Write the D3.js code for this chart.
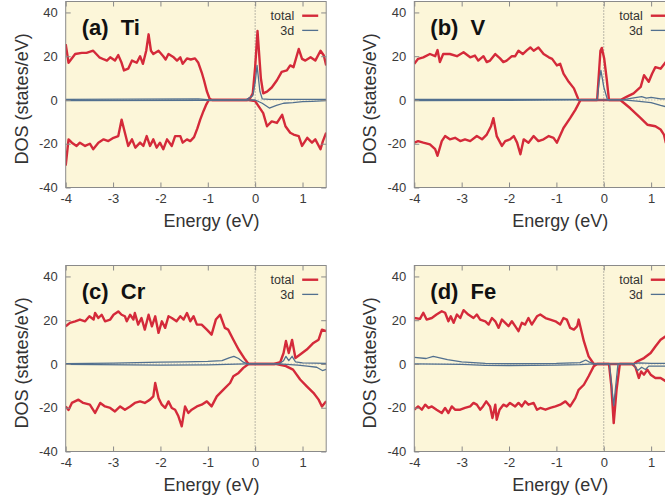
<!DOCTYPE html>
<html>
<head>
<meta charset="utf-8">
<script src="https://cdn.jsdelivr.net/npm/d3@7"></script>
<style>
body { margin: 0; background: #fff; }
svg { display: block; font-family: "Liberation Sans", Arial, sans-serif; }
</style>
</head>
<body>
<svg width="665" height="500"></svg>
<script>
var xTicks = [-4, -3, -2, -1, 0, 1];
var yTicks = [-40, -20, 0, 20, 40];
var panelLabels = ["(a)  Ti", "(b)  V", "(c)  Cr", "(d)  Fe"];
var legendNames = ["total", "3d"];

// Ti
var tiTotalUp = [[-4.00,25.5],[-3.94,17],[-3.80,21],[-3.66,21.5],[-3.56,21.5],[-3.42,22.5],[-3.29,19.5],[-3.19,18.5],[-3.13,18],
  [-3.06,19.5],[-2.96,18],[-2.89,20.5],[-2.82,17],[-2.77,13.5],[-2.68,14.3],[-2.60,18],[-2.50,17],[-2.43,20],[-2.37,16.5],
  [-2.30,22.5],[-2.25,30],[-2.20,22.5],[-2.15,21],[-2.04,22.5],[-1.94,20],[-1.89,18.5],[-1.83,21],[-1.72,19.5],[-1.65,18],
  [-1.58,19.5],[-1.53,16.5],[-1.44,19],[-1.36,18.5],[-1.27,19],[-1.20,17],[-1.12,12],[-1.08,9],[-1.02,4],[-0.96,0.5],[-0.91,0],
  [-0.17,0],[-0.10,1],[-0.05,3],[0.00,15],[0.05,31.5],[0.12,10],[0.17,3],[0.25,3.8],[0.35,5.7],[0.46,9],[0.56,12.8],[0.67,13.5],
  [0.74,15.8],[0.81,15],[0.92,23.3],[0.99,18.8],[1.06,18],[1.17,19.5],[1.27,18],[1.38,22.5],[1.45,20.3],[1.50,15.8]];
var tiTotalDown = [[-4.00,-30],[-3.94,-18],[-3.87,-19.5],[-3.77,-21],[-3.70,-19.5],[-3.59,-21],[-3.49,-20],[-3.42,-22.5],[-3.31,-19.5],
  [-3.20,-18],[-3.10,-18.8],[-2.99,-17.3],[-2.89,-16.5],[-2.82,-9],[-2.75,-15],[-2.68,-21],[-2.60,-18],[-2.53,-21.8],[-2.43,-19.5],
  [-2.36,-21],[-2.29,-16.5],[-2.22,-21],[-2.15,-18],[-2.08,-21.8],[-2.01,-19.5],[-1.94,-22.5],[-1.86,-18],[-1.76,-21],[-1.69,-16.5],
  [-1.58,-16.5],[-1.53,-19.5],[-1.44,-18],[-1.37,-18.8],[-1.29,-17],[-1.22,-13],[-1.16,-9],[-1.09,-5],[-1.03,-2],[-0.98,0],
  [-0.14,0],[0.00,-0.5],[0.17,-6],[0.25,-12],[0.35,-9.8],[0.46,-10.5],[0.57,-6.8],[0.64,-12],[0.74,-15],[0.81,-15.8],[0.92,-16.5],
  [0.99,-21],[1.10,-17.3],[1.20,-19.5],[1.27,-18],[1.38,-22.5],[1.43,-18.8],[1.50,-15]];
var ti3dUp = [[-4,0.3],[-1.2,0.5],[-1.0,0.1],[-0.9,0],[-0.2,0],[-0.05,2],[0.0,8],[0.04,15.8],[0.1,4],[0.15,0.5],[0.3,0.3],[1.5,0.3]];
var ti3dDown = [[-4,-0.3],[-1.0,-0.2],[0.0,0],[0.15,-1.5],[0.3,-3.7],[0.45,-2.5],[0.6,-1.5],[0.8,-1.2],[1.0,-0.8],[1.2,-0.6],[1.5,-0.3]];

// V
var vTotalUp = [[-4.00,16.5],[-3.92,18.8],[-3.81,19.5],[-3.67,21],[-3.56,20],[-3.51,22.8],[-3.46,17.3],[-3.39,21],[-3.25,21],
  [-3.10,20],[-2.96,21.8],[-2.82,19.5],[-2.72,20.3],[-2.65,18],[-2.54,20],[-2.47,17.3],[-2.40,18],[-2.29,21],[-2.19,19],
  [-2.12,17.3],[-2.05,18],[-1.94,20],[-1.87,20],[-1.80,22.5],[-1.71,21],[-1.62,22.8],[-1.55,24],[-1.48,22.5],[-1.38,24],
  [-1.27,21],[-1.16,19.5],[-1.09,18.8],[-0.99,15.8],[-0.92,16.5],[-0.85,12],[-0.74,8.3],[-0.63,5.3],[-0.53,0],[-0.14,0],
  [-0.07,22.5],[-0.04,23.8],[0.01,18.8],[0.06,10],[0.11,0],[0.35,0],[0.49,1.5],[0.63,3],[0.78,6],[0.85,11.3],[0.95,8.3],
  [1.02,12],[1.09,15],[1.20,14.3],[1.31,17.3],[1.40,18.5],[1.50,19]];
var vTotalDown = [[-4.00,-19.5],[-3.92,-18.8],[-3.81,-19.5],[-3.67,-20.3],[-3.56,-22.5],[-3.51,-25.5],[-3.42,-18.8],[-3.35,-16.5],
  [-3.25,-18],[-3.14,-17.3],[-3.03,-18.8],[-2.93,-18],[-2.82,-18.8],[-2.68,-16.5],[-2.57,-18],[-2.47,-15.8],[-2.38,-12],[-2.33,-8.3],
  [-2.26,-16.5],[-2.15,-21],[-2.08,-18.8],[-1.98,-18],[-1.90,-16.5],[-1.83,-19.5],[-1.76,-24.8],[-1.69,-18],[-1.59,-19.5],
  [-1.48,-16.5],[-1.38,-18.8],[-1.27,-18],[-1.16,-16.5],[-1.06,-17.3],[-0.99,-19.5],[-0.85,-12.8],[-0.71,-8.3],[-0.60,-4.5],
  [-0.49,0],[0.35,0],[0.56,-3.8],[0.78,-8.3],[0.92,-11.3],[1.09,-12],[1.20,-13.5],[1.27,-15.8],[1.31,-19.5],[1.40,-20],[1.50,-21]];
var v3dUp = [[-4,0.3],[-0.6,0.3],[-0.5,0],[-0.14,0],[-0.1,8],[-0.06,13.5],[0.0,6],[0.08,0],[0.4,0],[0.6,0.8],[0.8,1.5],[0.9,0.8],
  [1.0,1.2],[1.2,0.5],[1.5,0.5]];
var v3dDown = [[-4,-0.3],[-0.5,0],[0.4,0],[0.7,-0.5],[1.0,-1.2],[1.2,-2.5],[1.3,-3],[1.5,-3]];

// Cr
var crTotalUp = [[-4.00,17.2],[-3.91,18.8],[-3.80,19.5],[-3.70,20.3],[-3.59,19.5],[-3.50,21.8],[-3.41,20.3],[-3.38,23.3],[-3.31,21],
  [-3.24,22.5],[-3.17,19.5],[-3.06,20.3],[-2.99,22.5],[-2.89,24],[-2.82,22.5],[-2.75,21.8],[-2.71,19.5],[-2.64,22.5],[-2.57,20.3],
  [-2.54,23.3],[-2.47,18],[-2.40,21],[-2.33,15.7],[-2.25,22.5],[-2.18,17.2],[-2.11,21.8],[-2.04,14.2],[-1.97,19.5],[-1.90,16.5],
  [-1.83,21.8],[-1.76,21],[-1.66,19.5],[-1.58,21.8],[-1.51,20.3],[-1.44,23.3],[-1.37,19.5],[-1.30,21.8],[-1.23,18],[-1.13,18],
  [-1.02,15.7],[-0.92,13.4],[-0.83,20.3],[-0.74,22.5],[-0.64,16.5],[-0.57,15.7],[-0.46,11.1],[-0.35,6.6],[-0.21,2],[-0.14,0],
  [0.40,0],[0.53,0.8],[0.60,5],[0.65,10.5],[0.71,5],[0.78,11],[0.85,2.7],[0.95,4.3],[1.09,6.6],[1.23,9.6],[1.34,11.1],
  [1.41,15.7],[1.50,15]];
var crTotalDown = [[-4.00,-19.4],[-3.94,-21],[-3.87,-17.8],[-3.73,-16.3],[-3.63,-17.8],[-3.49,-18.6],[-3.38,-22.4],[-3.27,-17.8],
  [-3.17,-19.4],[-3.06,-20.1],[-2.96,-21.7],[-2.85,-19.4],[-2.75,-20.9],[-2.64,-19.4],[-2.54,-17.8],[-2.43,-17.1],[-2.33,-17.8],
  [-2.22,-16.3],[-2.15,-14.8],[-2.11,-8.7],[-2.04,-15.6],[-1.97,-18.6],[-1.90,-20.1],[-1.83,-17.1],[-1.76,-20.1],[-1.69,-20.9],
  [-1.62,-23.9],[-1.55,-28.5],[-1.48,-19.4],[-1.41,-22.4],[-1.34,-20.9],[-1.23,-19.4],[-1.13,-18.6],[-1.02,-17.1],[-0.92,-19.4],
  [-0.81,-14.8],[-0.67,-11.7],[-0.53,-8.7],[-0.46,-5.6],[-0.35,-4.1],[-0.25,-1.8],[-0.14,0],[0.45,0],[0.65,-1],[0.80,-2.6],
  [0.95,-7.1],[1.09,-10.2],[1.23,-13.2],[1.34,-16.3],[1.41,-19.4],[1.50,-17]];
var cr3dUp = [[-4,0.2],[-3,0.4],[-2,0.8],[-1.5,1],[-1,1.2],[-0.7,1.5],[-0.55,2.8],[-0.45,3.5],[-0.35,2.5],[-0.25,0.8],[-0.15,0],
  [0.5,0],[0.6,1.5],[0.65,3.5],[0.71,1.5],[0.78,3.5],[0.85,1],[1.0,0.5],[1.5,0.3]];
var cr3dDown = [[-4,-0.2],[-2,-0.5],[-1,-0.4],[-0.2,0],[0.5,0],[0.9,-0.5],[1.1,-1],[1.3,-1.5],[1.42,-3],[1.5,-2.5]];

// Fe
var feTotalUp = [[-4.00,21],[-3.88,20.6],[-3.81,23.4],[-3.74,20.3],[-3.63,21],[-3.53,22.6],[-3.42,24.1],[-3.35,23.4],[-3.28,19.5],
  [-3.23,21.8],[-3.17,18.8],[-3.10,22.6],[-3.03,21],[-2.96,24.6],[-2.86,22.6],[-2.75,21],[-2.68,22.6],[-2.61,20.3],[-2.50,19.5],
  [-2.43,18],[-2.36,21],[-2.29,19.5],[-2.22,16.5],[-2.15,20.3],[-2.08,18.8],[-2.01,17.3],[-1.94,19.5],[-1.87,17.3],[-1.80,15],
  [-1.73,18.8],[-1.66,18],[-1.59,21],[-1.52,18],[-1.41,21.8],[-1.34,22.6],[-1.23,21],[-1.13,20.3],[-1.02,19.5],[-0.92,18],
  [-0.85,21],[-0.78,20.3],[-0.71,16.5],[-0.63,15.7],[-0.56,17.3],[-0.53,20.3],[-0.42,10.4],[-0.32,3.5],[-0.21,0],[0.63,0],
  [0.71,1.2],[0.85,2.7],[0.99,5],[1.09,8],[1.20,11.1],[1.31,12.7],[1.40,14],[1.50,15]];
var feTotalDown = [[-4.00,-20.9],[-3.92,-19.4],[-3.84,-20.9],[-3.77,-18.6],[-3.70,-20.1],[-3.63,-19.4],[-3.53,-20.9],[-3.42,-22.4],
  [-3.35,-20.1],[-3.28,-22.4],[-3.21,-19.4],[-3.14,-20.9],[-3.03,-20.9],[-2.93,-20.1],[-2.82,-19.4],[-2.75,-17.8],[-2.68,-18.6],
  [-2.61,-20.9],[-2.55,-19.4],[-2.48,-17.1],[-2.40,-19.4],[-2.35,-24.7],[-2.29,-18.6],[-2.26,-25.5],[-2.20,-20.9],[-2.12,-18.6],
  [-2.05,-19.4],[-1.98,-17.8],[-1.87,-19.4],[-1.80,-17.8],[-1.73,-19.4],[-1.66,-17.1],[-1.59,-18.6],[-1.48,-17.8],[-1.41,-20.9],
  [-1.34,-20.1],[-1.23,-20.9],[-1.13,-20.1],[-1.02,-19.4],[-0.92,-18.6],[-0.81,-17.1],[-0.71,-19.4],[-0.60,-15.6],[-0.53,-11.8],
  [-0.42,-9.5],[-0.32,-5.6],[-0.21,-1],[-0.14,0],[0.11,0],[0.16,-10],[0.21,-27],[0.27,-11.8],[0.34,0],[0.60,0],[0.67,-1.5],
  [0.74,-6.4],[0.79,-3.4],[0.85,-4.9],[0.92,-2.6],[0.99,-4.9],[1.09,-6.4],[1.20,-6.4],[1.31,-7.9],[1.40,-9],[1.50,-10]];
var fe3dUp = [[-4,3],[-3.75,2.5],[-3.6,3.5],[-3.3,2],[-3,1],[-2.5,0.3],[-2,0.2],[-1,0.3],[-0.5,0.6],[-0.38,1.8],[-0.3,0.8],
  [-0.2,0],[0.6,0],[0.75,0.5],[1.0,0.3],[1.5,0.3]];
var fe3dDown = [[-4,0],[-3,-0.2],[-2.5,-0.6],[-2,-0.7],[-1,-0.5],[-0.5,-0.3],[-0.2,0],[0.12,0],[0.21,-19],[0.3,0],[0.62,0],
  [0.72,-3],[0.8,-1.5],[0.88,-2.5],[0.95,-1],[1.1,-1],[1.5,-1]];

var panels = [
  {label: panelLabels[0], up: tiTotalUp, down: tiTotalDown, dUp: ti3dUp, dDown: ti3dDown, left: 65.7, top: 1.5},
  {label: panelLabels[1], up: vTotalUp, down: vTotalDown, dUp: v3dUp, dDown: v3dDown, left: 414.3, top: 1.5},
  {label: panelLabels[2], up: crTotalUp, down: crTotalDown, dUp: cr3dUp, dDown: cr3dDown, left: 65.7, top: 265.5},
  {label: panelLabels[3], up: feTotalUp, down: feTotalDown, dUp: fe3dUp, dDown: fe3dDown, left: 414.3, top: 265.5}
];

var plotW = 260.5, plotH = 186;
var red = "#d42a3a", blue = "#52708f", bg = "#fcf6d9", borderCol = "#8a8a8a";
var plain = function(d) { return d; };

var svg = d3.select("svg");

panels.forEach(function(p, i) {
  var x = d3.scaleLinear().domain([-4, 1.5]).range([0, plotW]);
  var y = d3.scaleLinear().domain([-40, 45]).range([plotH, 0]);

  var g = svg.append("g").attr("transform", "translate(" + p.left + "," + p.top + ")");

  g.append("clipPath").attr("id", "clip" + i)
    .append("rect").attr("width", plotW).attr("height", plotH);

  g.append("rect").attr("width", plotW).attr("height", plotH).attr("fill", bg);

  var plot = g.append("g").attr("clip-path", "url(#clip" + i + ")");

  // dotted zero lines
  plot.append("line")
    .attr("x1", 0).attr("x2", plotW).attr("y1", y(0)).attr("y2", y(0))
    .attr("stroke", "#aaa").attr("stroke-width", 1).attr("stroke-dasharray", "1,2");
  plot.append("line")
    .attr("x1", x(0)).attr("x2", x(0)).attr("y1", 0).attr("y2", plotH)
    .attr("stroke", "#777").attr("stroke-width", 1).attr("stroke-dasharray", "1,2");

  var line = d3.line().x(function(d) { return x(d[0]); }).y(function(d) { return y(d[1]); });

  [p.up, p.down].forEach(function(s) {
    plot.append("path").datum(s).attr("d", line)
      .attr("fill", "none").attr("stroke", red).attr("stroke-width", 2.4)
      .attr("stroke-linejoin", "round");
  });
  [p.dUp, p.dDown].forEach(function(s) {
    plot.append("path").datum(s).attr("d", line)
      .attr("fill", "none").attr("stroke", blue).attr("stroke-width", 1.3)
      .attr("stroke-linejoin", "round");
  });

  // axes, ticks inside and mirrored
  var bottom = g.append("g").attr("transform", "translate(0," + plotH + ")")
    .call(d3.axisBottom(x).tickValues(xTicks).tickFormat(plain).tickSizeInner(-5).tickSizeOuter(0).tickPadding(6));
  var left = g.append("g")
    .call(d3.axisLeft(y).tickValues(yTicks).tickFormat(plain).tickSizeInner(-5).tickSizeOuter(0).tickPadding(8));
  var top = g.append("g")
    .call(d3.axisTop(x).tickValues(xTicks).tickSizeInner(-5).tickSizeOuter(0).tickFormat(""));
  var right = g.append("g").attr("transform", "translate(" + plotW + ",0)")
    .call(d3.axisRight(y).tickValues(yTicks).tickSizeInner(-5).tickSizeOuter(0).tickFormat(""));

  [bottom, left, top, right].forEach(function(a) {
    a.select(".domain").remove();
    a.selectAll(".tick line").attr("stroke", borderCol);
    a.selectAll(".tick text").attr("fill", "#3a3a3a").style("font-size", "13px")
      .style("font-family", "'Liberation Sans', Arial, sans-serif");
  });

  g.append("rect").attr("width", plotW).attr("height", plotH)
    .attr("fill", "none").attr("stroke", borderCol).attr("stroke-width", 1);

  // titles
  g.append("text")
    .attr("transform", "translate(-38," + y(0.5) + ") rotate(-90)")
    .attr("text-anchor", "middle").attr("fill", "#333").style("font-size", "18px")
    .text("DOS (states/eV)");
  g.append("text")
    .attr("x", x(-0.92)).attr("y", plotH + 39)
    .attr("text-anchor", "middle").attr("fill", "#333").style("font-size", "18px")
    .text("Energy (eV)");

  g.append("text")
    .attr("x", 16).attr("y", y(29.5))
    .attr("fill", "#111").style("font-size", "22px").style("font-weight", "bold")
    .style("white-space", "pre")
    .text(p.label);

  // legend
  var legCols = [red, blue], legW = [2.4, 1.3], legY = [38.5, 31.8];
  legendNames.forEach(function(name, k) {
    g.append("text")
      .attr("x", plotW - 32).attr("y", y(legY[k])).attr("dy", "0.35em")
      .attr("text-anchor", "end").attr("fill", "#333").style("font-size", "12.5px")
      .text(name);
    g.append("line")
      .attr("x1", plotW - 24).attr("x2", plotW - 8)
      .attr("y1", y(legY[k])).attr("y2", y(legY[k]))
      .attr("stroke", legCols[k]).attr("stroke-width", legW[k]);
  });
});
</script>
</body>
</html>
